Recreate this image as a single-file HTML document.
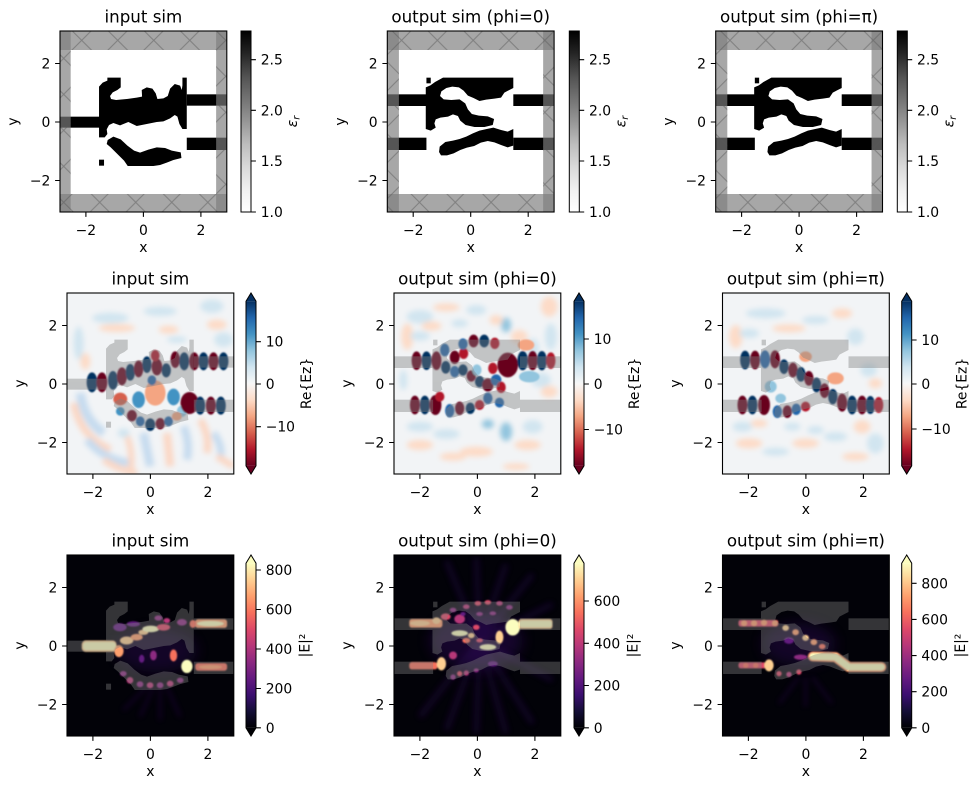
<!DOCTYPE html>
<html><head><meta charset="utf-8"><style>
body{margin:0;background:#fff}
svg text{font-family:"DejaVu Sans","Liberation Sans",sans-serif;fill:#000}
.t{font-size:13.9px}
.ti{font-size:16.7px}
.dr{fill:#67001f;stroke:#67001f}.r{fill:#b2182b;stroke:#b2182b}.r2{fill:#d6604d;stroke:#d6604d}.lr{fill:#f4a582;stroke:#f4a582}.vr{fill:#fddbc7}
.db{fill:#053061;stroke:#053061}.b{fill:#2166ac;stroke:#2166ac}.b2{fill:#4393c3;stroke:#4393c3}.lb{fill:#92c5de;stroke:#92c5de}.vb{fill:#d1e5f0}
.S ellipse{stroke-width:6}
.m1{fill:#140e36}.m2{fill:#3b0f70}.m3{fill:#641a80}.m4{fill:#8c2981}.m5{fill:#b73779}.m6{fill:#de4968}.m7{fill:#f7705c}.m8{fill:#fe9f6d}.m9{fill:#fecf92}.m10{fill:#fcfdbf}
.tk{stroke:#000;stroke-width:1.1;fill:none}
.fr{stroke:#000;stroke-width:1.1;fill:none}
.pml{fill:#7d7d7d;fill-opacity:.68}
</style></head><body>
<svg width="979" height="789" viewBox="0 0 979 789" xmlns="http://www.w3.org/2000/svg">
<defs>
<linearGradient id="gGrey" x1="0" y1="1" x2="0" y2="0">
<stop offset="0" stop-color="#ffffff"/><stop offset=".125" stop-color="#f0f0f0"/><stop offset=".25" stop-color="#d9d9d9"/><stop offset=".375" stop-color="#bdbdbd"/><stop offset=".5" stop-color="#969696"/><stop offset=".625" stop-color="#737373"/><stop offset=".75" stop-color="#525252"/><stop offset=".875" stop-color="#252525"/><stop offset="1" stop-color="#000000"/>
</linearGradient>
<linearGradient id="gRdBu" x1="0" y1="1" x2="0" y2="0">
<stop offset="0" stop-color="#67001f"/><stop offset=".1" stop-color="#b2182b"/><stop offset=".2" stop-color="#d6604d"/><stop offset=".3" stop-color="#f4a582"/><stop offset=".4" stop-color="#fddbc7"/><stop offset=".5" stop-color="#f7f7f7"/><stop offset=".6" stop-color="#d1e5f0"/><stop offset=".7" stop-color="#92c5de"/><stop offset=".8" stop-color="#4393c3"/><stop offset=".9" stop-color="#2166ac"/><stop offset="1" stop-color="#053061"/>
</linearGradient>
<linearGradient id="gMag" x1="0" y1="1" x2="0" y2="0">
<stop offset="0" stop-color="#000004"/><stop offset=".1" stop-color="#140e36"/><stop offset=".2" stop-color="#3b0f70"/><stop offset=".3" stop-color="#641a80"/><stop offset=".4" stop-color="#8c2981"/><stop offset=".5" stop-color="#b73779"/><stop offset=".6" stop-color="#de4968"/><stop offset=".7" stop-color="#f7705c"/><stop offset=".8" stop-color="#fe9f6d"/><stop offset=".9" stop-color="#fecf92"/><stop offset="1" stop-color="#fcfdbf"/>
</linearGradient>
<pattern id="hx" patternUnits="userSpaceOnUse" x="191" y="67" width="108" height="108">
<path d="M0 0L108 108M108 0L0 108" stroke="#555" stroke-opacity=".5" stroke-width="3"/>
</pattern>
<filter id="bl3" filterUnits="userSpaceOnUse" x="-100" y="-100" width="1100" height="1100"><feGaussianBlur stdDeviation="2.5"/></filter>
<filter id="bl4" filterUnits="userSpaceOnUse" x="-100" y="-100" width="1100" height="1100"><feGaussianBlur stdDeviation="4"/></filter>
<filter id="bl6" filterUnits="userSpaceOnUse" x="-100" y="-100" width="1100" height="1100"><feGaussianBlur stdDeviation="6"/></filter>
<filter id="bl8" filterUnits="userSpaceOnUse" x="-100" y="-100" width="1100" height="1100"><feGaussianBlur stdDeviation="8"/></filter>
<filter id="bl10" filterUnits="userSpaceOnUse" x="-100" y="-100" width="1100" height="1100"><feGaussianBlur stdDeviation="10"/></filter>
<filter id="bl20" filterUnits="userSpaceOnUse" x="-100" y="-100" width="1100" height="1100"><feGaussianBlur stdDeviation="20"/></filter>

<g id="s1">
<rect x="160" y="350" width="140" height="33"/>
<rect x="560" y="283" width="140" height="34"/>
<rect x="560" y="413" width="140" height="37"/>
<path d="M322 233L362 233L362 262L352 270L338 277L330 288L333 297L348 300L380 297L410 293L426 290L425 270L440 262L457 266L467 280L472 297L490 295L503 288L510 266L524 252L540 257L545 270L547 256L547 233L560 233L560 387L547 387L538 372L532 350L524 345L510 355L490 364L470 366L440 372L410 378L385 366L360 376L340 369L327 375L320 388L322 402L314 412L297 412L297 260L308 248L322 242Z"/>
<path d="M323 420L340 410L362 418L382 437L402 452L420 458L445 449L470 442L495 444L515 452L542 457L544 474L520 480L500 488L480 495L460 498L383 498L372 482L352 462L332 442L320 432Z"/>
<rect x="297" y="479" width="15" height="18"/>
</g>
<g id="s2">
<rect x="180" y="283" width="140" height="35"/>
<rect x="180" y="413" width="140" height="37"/>
<rect x="582" y="283" width="140" height="35"/>
<rect x="582" y="413" width="140" height="37"/>
<rect x="320" y="233" width="13" height="17"/>
<path d="M370 233L582 233L582 264L570 270L555 278L545 293L525 296L500 299L480 303L462 294L445 287L432 272L418 262L398 260L380 264L365 274L361 288L372 298L395 300L420 298L437 310L445 328L457 342L478 347L505 349L524 357L520 375L495 381L465 381L438 375L422 362L415 348L400 343L385 350L362 353L348 358L344 370L348 383L333 392L318 387L318 262L332 256L346 246Z"/>
<path d="M358 456L360 440L377 426L400 422L420 417L440 410L460 400L480 392L502 387L522 383L545 390L565 395L582 387L582 437L565 442L545 435L525 427L505 423L484 428L464 438L442 443L422 450L402 460L382 466L364 466Z"/>
</g>
<g id="pml1">
<rect class="pml" x="170" y="80" width="520" height="70"/>
<rect class="pml" x="170" y="582" width="520" height="70"/>
<rect class="pml" x="170" y="80" width="42" height="570"/>
<rect class="pml" x="648" y="80" width="42" height="570"/>
<rect fill="url(#hx)" x="170" y="80" width="520" height="70"/>
<rect fill="url(#hx)" x="170" y="582" width="520" height="70"/>
<rect fill="url(#hx)" x="170" y="150" width="42" height="432"/>
<rect fill="url(#hx)" x="648" y="150" width="42" height="432"/>
</g>
<g id="pml2">
<rect class="pml" x="190" y="80" width="530" height="70"/>
<rect class="pml" x="190" y="582" width="530" height="70"/>
<rect class="pml" x="190" y="80" width="47" height="570"/>
<rect class="pml" x="672" y="80" width="48" height="570"/>
<rect fill="url(#hx)" x="190" y="80" width="530" height="70"/>
<rect fill="url(#hx)" x="190" y="582" width="530" height="70"/>
<rect fill="url(#hx)" x="190" y="150" width="47" height="432"/>
<rect fill="url(#hx)" x="672" y="150" width="48" height="432"/>
</g>
</defs>

<!-- ROW 1 images -->
<svg x="60" y="31" width="166.8" height="181" viewBox="180 93 500 543" preserveAspectRatio="none">
<rect x="160" y="80" width="540" height="570" fill="#fff"/>
<use href="#s1" fill="#000"/>
<use href="#pml1"/>
</svg>
<svg x="387.3" y="31" width="166.8" height="181" viewBox="202 93 503 543" preserveAspectRatio="none">
<rect x="180" y="80" width="540" height="570" fill="#fff"/>
<use href="#s2" fill="#000"/>
<use href="#pml2"/>
</svg>
<svg x="715.7" y="31" width="166.8" height="181" viewBox="202 93 503 543" preserveAspectRatio="none">
<rect x="180" y="80" width="540" height="570" fill="#fff"/>
<use href="#s2" fill="#000"/>
<use href="#pml2"/>
</svg>

<!-- ROW 2 images -->
<svg x="67" y="293" width="166.8" height="181" viewBox="0 0 501 543" preserveAspectRatio="none">
<rect x="-10" y="-10" width="520" height="560" fill="#f2f4f6"/>
<g filter="url(#bl8)">
<ellipse class="vb" cx="130" cy="75" rx="55" ry="16"/><ellipse class="vr" cx="150" cy="105" rx="55" ry="12"/>
<ellipse class="vb" cx="280" cy="55" rx="50" ry="14"/><ellipse class="vr" cx="305" cy="110" rx="30" ry="12"/>
<ellipse class="vb" cx="330" cy="140" rx="30" ry="10"/><ellipse class="vb" cx="435" cy="40" rx="35" ry="20"/>
<ellipse class="vr" cx="450" cy="95" rx="30" ry="15"/><ellipse class="vb" cx="470" cy="140" rx="28" ry="22"/>
<ellipse class="vb" cx="35" cy="150" rx="15" ry="50"/><ellipse class="vr" cx="55" cy="205" rx="15" ry="25"/>
<path d="M40 300Q50 380 110 420" stroke="#c6dbef" stroke-width="28" fill="none"/>
<path d="M20 330Q40 430 130 470" stroke="#fbd7c4" stroke-width="22" fill="none"/>
<path d="M60 440Q110 500 190 510" stroke="#c6dbef" stroke-width="24" fill="none"/>
<path d="M110 500Q150 530 210 540" stroke="#fbd7c4" stroke-width="20" fill="none"/>
<path d="M230 420L250 520" stroke="#c6dbef" stroke-width="26" fill="none"/>
<path d="M300 420L310 520" stroke="#fbd7c4" stroke-width="24" fill="none"/>
<path d="M350 400Q370 450 360 500" stroke="#c6dbef" stroke-width="24" fill="none"/>
<path d="M400 380Q430 430 420 480" stroke="#fbd7c4" stroke-width="22" fill="none"/>
<path d="M440 420Q470 460 460 500" stroke="#c6dbef" stroke-width="22" fill="none"/>
<path d="M450 490L500 520" stroke="#fbd7c4" stroke-width="20" fill="none"/>
<path d="M180 430Q200 480 190 540" stroke="#fbd7c4" stroke-width="18" fill="none"/>
<ellipse class="vb" cx="170" cy="420" rx="18" ry="14"/>
</g>
<g filter="url(#bl3)" class="S">
<ellipse class="lr" cx="265" cy="300" rx="28" ry="35"/>
<ellipse class="r2" cx="160" cy="318" rx="18" ry="16"/>
<ellipse class="b2" cx="215" cy="320" rx="16" ry="22"/>
<ellipse class="b2" cx="320" cy="312" rx="16" ry="22"/>
<ellipse class="lb" cx="345" cy="355" rx="12" ry="14"/>
<ellipse class="db" cx="75" cy="268" rx="13" ry="27"/><ellipse class="dr" cx="105" cy="268" rx="13" ry="27"/>
<ellipse class="db" cx="138" cy="262" rx="12" ry="25"/><ellipse class="dr" cx="165" cy="250" rx="12" ry="24"/>
<ellipse class="db" cx="190" cy="238" rx="11" ry="22"/><ellipse class="dr" cx="215" cy="228" rx="11" ry="22"/>
<ellipse class="db" cx="240" cy="215" rx="11" ry="22"/><ellipse class="dr" cx="270" cy="222" rx="13" ry="22"/>
<ellipse class="db" cx="298" cy="232" rx="11" ry="18"/><ellipse class="b" cx="255" cy="262" rx="10" ry="12"/>
<ellipse class="r" cx="265" cy="188" rx="10" ry="14"/>
<ellipse class="dr" cx="325" cy="200" rx="11" ry="22"/><ellipse class="db" cx="352" cy="205" rx="12" ry="24"/>
<ellipse class="dr" cx="382" cy="205" rx="12" ry="24"/><ellipse class="db" cx="410" cy="205" rx="12" ry="24"/>
<ellipse class="dr" cx="440" cy="205" rx="12" ry="24"/><ellipse class="db" cx="470" cy="205" rx="12" ry="24"/>
<ellipse class="dr" cx="368" cy="330" rx="24" ry="30"/><ellipse class="db" cx="400" cy="338" rx="12" ry="24"/>
<ellipse class="dr" cx="432" cy="338" rx="12" ry="24"/><ellipse class="db" cx="462" cy="338" rx="12" ry="24"/>
<ellipse class="dr" cx="195" cy="368" rx="12" ry="14"/><ellipse class="b" cx="220" cy="385" rx="10" ry="12"/>
<ellipse class="db" cx="250" cy="395" rx="12" ry="16"/><ellipse class="dr" cx="280" cy="392" rx="11" ry="14"/>
<ellipse class="b" cx="305" cy="385" rx="10" ry="12"/><ellipse class="lr" cx="330" cy="370" rx="12" ry="10"/>
<ellipse class="b2" cx="160" cy="355" rx="10" ry="10"/>
</g>
</svg>
<svg x="67" y="293" width="166.8" height="181" viewBox="180 93 500 543" preserveAspectRatio="none">
<use href="#s1" fill="#808080" opacity=".42"/>
</svg>

<svg x="394" y="293" width="166.8" height="181" viewBox="222 69 503 543" preserveAspectRatio="none">
<rect x="210" y="60" width="530" height="560" fill="#f2f4f6"/>
<g filter="url(#bl8)">
<ellipse class="vb" cx="300" cy="140" rx="40" ry="20"/><ellipse class="vr" cx="380" cy="112" rx="40" ry="12"/>
<ellipse class="vb" cx="470" cy="120" rx="30" ry="15"/><ellipse fill="#92c5de" cx="560" cy="165" rx="15" ry="22"/>
<ellipse class="vr" cx="600" cy="200" rx="25" ry="20"/><ellipse class="vb" cx="640" cy="235" rx="20" ry="30"/>
<ellipse class="vr" cx="690" cy="110" rx="25" ry="30"/><ellipse class="vb" cx="695" cy="200" rx="18" ry="40"/>
<ellipse class="vb" cx="665" cy="330" rx="30" ry="22"/><ellipse class="vr" cx="690" cy="365" rx="25" ry="18"/>
<ellipse class="vb" cx="640" cy="470" rx="30" ry="20"/><ellipse class="vr" cx="625" cy="525" rx="40" ry="15"/>
<ellipse fill="#92c5de" cx="560" cy="485" rx="18" ry="28"/><ellipse fill="#92c5de" cx="505" cy="462" rx="18" ry="14"/>
<ellipse class="vr" cx="470" cy="545" rx="50" ry="15"/><ellipse class="vb" cx="380" cy="492" rx="40" ry="15"/>
<ellipse class="vr" cx="300" cy="525" rx="40" ry="15"/><ellipse class="vb" cx="300" cy="470" rx="40" ry="15"/>
<ellipse class="vr" cx="262" cy="200" rx="18" ry="40"/><ellipse class="vb" cx="300" cy="198" rx="30" ry="14"/>
<ellipse class="vr" cx="335" cy="168" rx="30" ry="14"/><ellipse class="vb" cx="250" cy="330" rx="12" ry="30"/>
<ellipse class="vr" cx="590" cy="590" rx="40" ry="10"/><ellipse class="vr" cx="400" cy="560" rx="40" ry="12"/>
<ellipse class="vr" cx="530" cy="150" rx="20" ry="15"/><ellipse class="vb" cx="420" cy="160" rx="25" ry="12"/>
</g>
<g filter="url(#bl3)" class="S">
<ellipse class="dr" cx="290" cy="272" rx="12" ry="25"/><ellipse class="db" cx="320" cy="272" rx="12" ry="25"/>
<ellipse class="dr" cx="350" cy="272" rx="12" ry="25"/>
<ellipse class="b" cx="375" cy="240" rx="11" ry="16"/><ellipse class="db" cx="378" cy="292" rx="11" ry="16"/>
<ellipse class="dr" cx="405" cy="262" rx="12" ry="17"/><ellipse class="b" cx="405" cy="305" rx="11" ry="14"/>
<ellipse class="db" cx="430" cy="300" rx="11" ry="14"/><ellipse class="r" cx="432" cy="250" rx="11" ry="14"/>
<ellipse class="dr" cx="455" cy="318" rx="11" ry="14"/><ellipse class="lb" cx="472" cy="300" rx="11" ry="14"/>
<ellipse class="db" cx="480" cy="335" rx="11" ry="14"/><ellipse class="dr" cx="505" cy="345" rx="14" ry="17"/>
<ellipse class="b" cx="530" cy="330" rx="13" ry="14"/><ellipse class="r" cx="520" cy="295" rx="11" ry="14"/>
<ellipse class="r" cx="545" cy="352" rx="11" ry="14"/><ellipse class="b" cx="505" cy="385" rx="11" ry="14"/>
<ellipse class="b" cx="540" cy="398" rx="11" ry="12"/>
<ellipse class="b" cx="430" cy="222" rx="11" ry="14"/><ellipse class="dr" cx="462" cy="213" rx="12" ry="16"/>
<ellipse class="db" cx="494" cy="213" rx="12" ry="16"/><ellipse class="r" cx="526" cy="220" rx="11" ry="14"/>
<ellipse class="dr" cx="565" cy="285" rx="28" ry="34"/><ellipse class="db" cx="610" cy="272" rx="13" ry="26"/>
<ellipse class="dr" cx="640" cy="272" rx="12" ry="26"/><ellipse class="db" cx="668" cy="272" rx="12" ry="26"/>
<ellipse class="r" cx="695" cy="272" rx="11" ry="22"/>
<ellipse class="dr" cx="285" cy="405" rx="12" ry="25"/><ellipse class="db" cx="315" cy="405" rx="12" ry="25"/>
<ellipse class="dr" cx="347" cy="405" rx="15" ry="27"/><ellipse class="b" cx="390" cy="422" rx="11" ry="17"/>
<ellipse class="dr" cx="420" cy="415" rx="11" ry="17"/><ellipse class="db" cx="452" cy="415" rx="11" ry="14"/>
<ellipse class="r" cx="480" cy="405" rx="11" ry="12"/><ellipse class="r" cx="360" cy="380" rx="11" ry="12"/>
<ellipse class="lb" cx="630" cy="320" rx="28" ry="14"/><ellipse class="lr" cx="620" cy="225" rx="22" ry="14"/>
</g>
</svg>
<svg x="394" y="293" width="166.8" height="181" viewBox="202 93 503 543" preserveAspectRatio="none">
<use href="#s2" fill="#808080" opacity=".42"/>
</svg>

<svg x="722.5" y="293" width="166.8" height="181" viewBox="220 69 502 543" preserveAspectRatio="none">
<rect x="210" y="60" width="530" height="560" fill="#f2f4f6"/>
<g filter="url(#bl8)">
<ellipse class="vb" cx="350" cy="130" rx="60" ry="15"/><ellipse class="vr" cx="420" cy="175" rx="50" ry="12"/>
<ellipse class="vb" cx="500" cy="150" rx="40" ry="12"/><ellipse class="vr" cx="580" cy="130" rx="30" ry="15"/>
<ellipse class="vb" cx="620" cy="200" rx="25" ry="25"/><ellipse class="vr" cx="260" cy="200" rx="20" ry="35"/>
<ellipse class="vb" cx="300" cy="190" rx="30" ry="14"/><ellipse class="vb" cx="280" cy="470" rx="30" ry="15"/>
<ellipse class="vr" cx="300" cy="520" rx="40" ry="15"/><ellipse class="vb" cx="380" cy="545" rx="40" ry="12"/>
<ellipse class="vr" cx="470" cy="520" rx="40" ry="14"/><ellipse class="vb" cx="560" cy="500" rx="35" ry="14"/>
<ellipse class="vr" cx="640" cy="470" rx="25" ry="20"/><ellipse class="vb" cx="680" cy="520" rx="25" ry="30"/>
<ellipse class="vr" cx="620" cy="560" rx="40" ry="12"/><ellipse class="vb" cx="660" cy="300" rx="25" ry="20"/>
<ellipse class="vr" cx="680" cy="340" rx="20" ry="15"/><ellipse class="vb" cx="430" cy="470" rx="25" ry="12"/>
<ellipse class="vr" cx="330" cy="460" rx="25" ry="12"/><ellipse class="vb" cx="500" cy="480" rx="25" ry="12"/>
</g>
<g filter="url(#bl3)" class="S">
<ellipse class="lb" cx="365" cy="350" rx="15" ry="15"/><ellipse class="lb" cx="395" cy="385" rx="13" ry="11"/>
<ellipse class="lr" cx="560" cy="325" rx="22" ry="15"/><ellipse class="lr" cx="470" cy="260" rx="16" ry="13"/>
<ellipse class="db" cx="288" cy="270" rx="12" ry="25"/><ellipse class="dr" cx="318" cy="270" rx="12" ry="25"/>
<ellipse class="b" cx="348" cy="268" rx="12" ry="24"/><ellipse class="dr" cx="378" cy="268" rx="12" ry="24"/>
<ellipse class="db" cx="405" cy="290" rx="11" ry="19"/><ellipse class="dr" cx="432" cy="300" rx="11" ry="19"/>
<ellipse class="db" cx="456" cy="313" rx="11" ry="19"/><ellipse class="dr" cx="480" cy="325" rx="11" ry="19"/>
<ellipse class="db" cx="503" cy="345" rx="11" ry="19"/><ellipse class="dr" cx="527" cy="362" rx="11" ry="19"/>
<ellipse class="db" cx="552" cy="380" rx="11" ry="20"/><ellipse class="dr" cx="580" cy="398" rx="12" ry="24"/>
<ellipse class="db" cx="610" cy="405" rx="12" ry="25"/><ellipse class="dr" cx="640" cy="405" rx="12" ry="25"/>
<ellipse class="db" cx="665" cy="405" rx="11" ry="24"/><ellipse class="r" cx="690" cy="405" rx="11" ry="21"/>
<ellipse class="dr" cx="280" cy="405" rx="12" ry="25"/><ellipse class="db" cx="310" cy="405" rx="12" ry="25"/>
<ellipse class="dr" cx="345" cy="405" rx="15" ry="27"/><ellipse class="b" cx="385" cy="425" rx="11" ry="16"/>
<ellipse class="dr" cx="415" cy="425" rx="11" ry="16"/><ellipse class="b" cx="442" cy="418" rx="11" ry="14"/>
<ellipse class="r" cx="470" cy="410" rx="11" ry="12"/>
</g>
</svg>
<svg x="722.5" y="293" width="166.8" height="181" viewBox="202 93 503 543" preserveAspectRatio="none">
<use href="#s2" fill="#808080" opacity=".42"/>
</svg>

<!-- ROW 3 images -->
<svg x="67" y="555" width="166.8" height="181" viewBox="202 72 498 546" preserveAspectRatio="none">
<rect x="190" y="60" width="520" height="570" fill="#020208"/>
<g filter="url(#bl20)" opacity=".3">
<ellipse class="m2" cx="470" cy="360" rx="120" ry="65"/>
</g>
<g filter="url(#bl8)" opacity=".25" stroke="#3b0f70" stroke-width="10">
<path d="M460 470L420 560M480 470L480 570M500 470L540 560M440 470L370 540"/>
</g>
<g filter="url(#bl3)">
<ellipse class="m3" cx="360" cy="290" rx="20" ry="12"/><ellipse class="m3" cx="400" cy="280" rx="20" ry="8"/>
<rect class="m9" x="246" y="330" width="104" height="34" rx="12"/>
<rect class="m10" x="250" y="335" width="98" height="24" rx="10"/>
<ellipse class="m8" cx="357" cy="362" rx="14" ry="18"/>
<ellipse class="m9" cx="380" cy="330" rx="20" ry="12"/><ellipse class="m8" cx="410" cy="320" rx="18" ry="10"/>
<ellipse class="m9" cx="430" cy="305" rx="15" ry="8"/><ellipse class="m10" cx="452" cy="295" rx="25" ry="10"/>
<ellipse class="m6" cx="490" cy="290" rx="20" ry="10"/><ellipse class="m5" cx="500" cy="270" rx="10" ry="8"/>
<ellipse class="m4" cx="545" cy="275" rx="15" ry="10"/><ellipse class="m4" cx="475" cy="262" rx="12" ry="8"/>
<rect class="m8" x="585" y="266" width="95" height="26" rx="8"/><ellipse class="m10" cx="630" cy="279" rx="40" ry="8"/>
<ellipse class="m7" cx="578" cy="280" rx="10" ry="12"/>
<rect class="m7" x="585" y="398" width="95" height="23" rx="8"/><ellipse class="m8" cx="630" cy="410" rx="35" ry="6"/>
<ellipse class="m10" cx="560" cy="408" rx="17" ry="20"/>
<ellipse class="m7" cx="520" cy="375" rx="11" ry="18"/><ellipse class="m4" cx="460" cy="375" rx="10" ry="15"/>
<ellipse class="m3" cx="425" cy="385" rx="8" ry="12"/>
<ellipse class="m4" cx="370" cy="430" rx="10" ry="8"/><ellipse class="m5" cx="390" cy="450" rx="10" ry="10"/>
<ellipse class="m4" cx="420" cy="462" rx="10" ry="9"/><ellipse class="m5" cx="450" cy="465" rx="10" ry="9"/>
<ellipse class="m4" cx="480" cy="465" rx="10" ry="9"/><ellipse class="m5" cx="510" cy="460" rx="10" ry="9"/>
<ellipse class="m4" cx="540" cy="450" rx="10" ry="8"/>
</g>
</svg>
<svg x="67" y="555" width="166.8" height="181" viewBox="180 93 500 543" preserveAspectRatio="none">
<use href="#s1" fill="#808080" opacity=".4"/>
</svg>

<svg x="394" y="555" width="166.8" height="181" viewBox="222 72 503 546" preserveAspectRatio="none">
<rect x="210" y="60" width="530" height="570" fill="#020208"/>
<g filter="url(#bl20)" opacity=".35">
<ellipse class="m2" cx="470" cy="330" rx="140" ry="85"/>
</g>
<g filter="url(#bl10)" opacity=".3" stroke="#3b0f70" stroke-width="16">
<path d="M480 330L380 90M480 330L470 80M480 330L560 100M480 330L640 130M480 330L700 220M480 330L700 450M480 330L640 580M480 330L560 610M480 330L470 610M480 330L380 600M480 330L300 560"/>
</g>
<g filter="url(#bl3)">
<rect class="m8" x="268" y="265" width="100" height="26" rx="8"/><ellipse class="m9" cx="300" cy="278" rx="30" ry="8"/>
<ellipse class="m9" cx="350" cy="270" rx="12" ry="10"/>
<ellipse class="m6" cx="378" cy="258" rx="15" ry="10"/><ellipse class="m5" cx="420" cy="265" rx="16" ry="14"/>
<ellipse class="m4" cx="400" cy="238" rx="10" ry="7"/><ellipse class="m5" cx="440" cy="228" rx="10" ry="7"/>
<ellipse class="m6" cx="475" cy="218" rx="10" ry="7"/><ellipse class="m6" cx="505" cy="215" rx="10" ry="7"/>
<ellipse class="m5" cx="540" cy="218" rx="10" ry="7"/><ellipse class="m4" cx="570" cy="230" rx="10" ry="7"/>
<ellipse class="m3" cx="430" cy="250" rx="8" ry="6"/><ellipse class="m4" cx="480" cy="250" rx="10" ry="6"/>
<ellipse class="m4" cx="520" cy="248" rx="10" ry="6"/>
<ellipse class="m10" cx="420" cy="308" rx="25" ry="9"/><ellipse class="m9" cx="455" cy="315" rx="10" ry="8"/>
<ellipse class="m7" cx="440" cy="330" rx="12" ry="8"/><ellipse class="m10" cx="505" cy="350" rx="25" ry="9"/>
<ellipse class="m9" cx="540" cy="320" rx="12" ry="20"/><ellipse class="m6" cx="470" cy="290" rx="10" ry="8"/>
<ellipse class="m6" cx="480" cy="330" rx="10" ry="6"/>
<ellipse class="m10" cx="580" cy="290" rx="22" ry="25"/>
<rect class="m9" x="598" y="265" width="102" height="30" rx="8"/>
<rect class="m10" x="600" y="270" width="98" height="20" rx="8"/>
<rect class="m7" x="268" y="395" width="85" height="22" rx="8"/><ellipse class="m9" cx="365" cy="400" rx="14" ry="20"/>
<ellipse class="m5" cx="400" cy="375" rx="12" ry="12"/><ellipse class="m6" cx="420" cy="430" rx="8" ry="8"/>
<ellipse class="m5" cx="440" cy="428" rx="8" ry="8"/><ellipse class="m4" cx="400" cy="440" rx="8" ry="8"/>
<ellipse class="m4" cx="470" cy="420" rx="8" ry="6"/><ellipse class="m3" cx="520" cy="400" rx="15" ry="8"/>
</g>
</svg>
<svg x="394" y="555" width="166.8" height="181" viewBox="202 93 503 543" preserveAspectRatio="none">
<use href="#s2" fill="#808080" opacity=".4"/>
</svg>

<svg x="722.5" y="555" width="166.8" height="181" viewBox="220 72 502 546" preserveAspectRatio="none">
<rect x="210" y="60" width="530" height="570" fill="#020208"/>
<g filter="url(#bl20)" opacity=".3">
<ellipse class="m2" cx="450" cy="340" rx="110" ry="65"/>
</g>
<g filter="url(#bl8)" opacity=".25" stroke="#3b0f70" stroke-width="10">
<path d="M450 440L390 520M470 440L470 530M490 440L550 520"/>
</g>
<g filter="url(#bl3)">
<rect class="m6" x="268" y="268" width="120" height="20" rx="7"/>
<ellipse class="m8" cx="285" cy="278" rx="9" ry="9"/><ellipse class="m8" cx="315" cy="278" rx="9" ry="9"/>
<ellipse class="m8" cx="345" cy="276" rx="9" ry="9"/><ellipse class="m8" cx="378" cy="278" rx="9" ry="9"/>
<ellipse class="m9" cx="410" cy="292" rx="10" ry="9"/><ellipse class="m8" cx="440" cy="305" rx="10" ry="9"/>
<ellipse class="m9" cx="470" cy="322" rx="10" ry="9"/><ellipse class="m8" cx="495" cy="335" rx="10" ry="9"/>
<ellipse class="m7" cx="520" cy="348" rx="10" ry="8"/><ellipse class="m3" cx="420" cy="330" rx="15" ry="10"/>
<path d="M492 378L560 380L600 410L698 410" stroke="#fe9f6d" stroke-width="30" stroke-linecap="round" stroke-linejoin="round" fill="none"/>
<path d="M492 378L560 380L600 410L698 410" stroke="#fcfdbf" stroke-width="20" stroke-linecap="round" stroke-linejoin="round" fill="none"/>
<rect class="m6" x="268" y="396" width="85" height="18" rx="7"/>
<ellipse class="m7" cx="290" cy="405" rx="8" ry="8"/><ellipse class="m7" cx="320" cy="405" rx="8" ry="8"/>
<ellipse class="m9" cx="360" cy="405" rx="14" ry="18"/>
<ellipse class="m6" cx="390" cy="430" rx="8" ry="8"/><ellipse class="m5" cx="420" cy="432" rx="8" ry="8"/>
<ellipse class="m6" cx="450" cy="425" rx="8" ry="8"/><ellipse class="m4" cx="455" cy="380" rx="20" ry="8"/>
</g>
</svg>
<svg x="722.5" y="555" width="166.8" height="181" viewBox="202 93 503 543" preserveAspectRatio="none">
<use href="#s2" fill="#808080" opacity=".4"/>
</svg>

<!-- frames -->
<rect class="fr" x="60" y="31" width="166.8" height="181"/>
<rect class="fr" x="387.3" y="31" width="166.8" height="181"/>
<rect class="fr" x="715.7" y="31" width="166.8" height="181"/>
<rect class="fr" x="67" y="293" width="166.8" height="181"/>
<rect class="fr" x="394" y="293" width="166.8" height="181"/>
<rect class="fr" x="722.5" y="293" width="166.8" height="181"/>
<rect class="fr" x="67" y="555" width="166.8" height="181"/>
<rect class="fr" x="394" y="555" width="166.8" height="181"/>
<rect class="fr" x="722.5" y="555" width="166.8" height="181"/>

<!-- colorbars row 1 -->
<rect x="241" y="31" width="10" height="181" fill="url(#gGrey)" stroke="#000" stroke-width="1"/>
<rect x="569.3" y="31" width="10" height="181" fill="url(#gGrey)" stroke="#000" stroke-width="1"/>
<rect x="897.3" y="31" width="10" height="181" fill="url(#gGrey)" stroke="#000" stroke-width="1"/>
<!-- colorbars row 2 -->
<g>
<rect x="246" y="301.2" width="10" height="164.6" fill="url(#gRdBu)"/>
<polygon points="246,301.2 251,293 256,301.2" fill="#053061"/><polygon points="246,465.8 251,474 256,465.8" fill="#67001f"/>
<polygon points="246,301.2 251,293 256,301.2 256,465.8 251,474 246,465.8" fill="none" stroke="#000" stroke-width="1"/>
<rect x="574" y="301.2" width="10" height="164.6" fill="url(#gRdBu)"/>
<polygon points="574,301.2 579,293 584,301.2" fill="#053061"/><polygon points="574,465.8 579,474 584,465.8" fill="#67001f"/>
<polygon points="574,301.2 579,293 584,301.2 584,465.8 579,474 574,465.8" fill="none" stroke="#000" stroke-width="1"/>
<rect x="901.7" y="301.2" width="10" height="164.6" fill="url(#gRdBu)"/>
<polygon points="901.7,301.2 906.7,293 911.7,301.2" fill="#053061"/><polygon points="901.7,465.8 906.7,474 911.7,465.8" fill="#67001f"/>
<polygon points="901.7,301.2 906.7,293 911.7,301.2 911.7,465.8 906.7,474 901.7,465.8" fill="none" stroke="#000" stroke-width="1"/>
</g>
<!-- colorbars row 3 -->
<g>
<rect x="246" y="563.2" width="10" height="164.6" fill="url(#gMag)"/>
<polygon points="246,563.2 251,555 256,563.2" fill="#fcfdbf"/><polygon points="246,727.8 251,736 256,727.8" fill="#000004"/>
<polygon points="246,563.2 251,555 256,563.2 256,727.8 251,736 246,727.8" fill="none" stroke="#000" stroke-width="1"/>
<rect x="574" y="563.2" width="10" height="164.6" fill="url(#gMag)"/>
<polygon points="574,563.2 579,555 584,563.2" fill="#fcfdbf"/><polygon points="574,727.8 579,736 584,727.8" fill="#000004"/>
<polygon points="574,563.2 579,555 584,563.2 584,727.8 579,736 574,727.8" fill="none" stroke="#000" stroke-width="1"/>
<rect x="901.7" y="563.2" width="10" height="164.6" fill="url(#gMag)"/>
<polygon points="901.7,563.2 906.7,555 911.7,563.2" fill="#fcfdbf"/><polygon points="901.7,727.8 906.7,736 911.7,727.8" fill="#000004"/>
<polygon points="901.7,563.2 906.7,555 911.7,563.2 911.7,727.8 906.7,736 901.7,727.8" fill="none" stroke="#000" stroke-width="1"/>
</g>

<!-- ticks -->
<path class="tk" d="
M85.9 212v4.9M143.4 212v4.9M200.9 212v4.9M60 63.5h-4.9M60 122h-4.9M60 180.5h-4.9
M251 59.7h4.9M251 110.3h4.9M251 161h4.9M251 212h4.9
M413.2 212v4.9M470.7 212v4.9M528.2 212v4.9M387.3 63.5h-4.9M387.3 122h-4.9M387.3 180.5h-4.9
M579.3 59.7h4.9M579.3 110.3h4.9M579.3 161h4.9M579.3 212h4.9
M741.6 212v4.9M799.1 212v4.9M856.6 212v4.9M715.7 63.5h-4.9M715.7 122h-4.9M715.7 180.5h-4.9
M907.3 59.7h4.9M907.3 110.3h4.9M907.3 161h4.9M907.3 212h4.9
M92.9 474v4.9M150.4 474v4.9M207.9 474v4.9M67 325.5h-4.9M67 384h-4.9M67 442.5h-4.9
M256 341.7h4.9M256 384h4.9M256 426.7h4.9
M419.9 474v4.9M477.4 474v4.9M534.9 474v4.9M394 325.5h-4.9M394 384h-4.9M394 442.5h-4.9
M584 339h4.9M584 384h4.9M584 429.5h4.9
M748.4 474v4.9M805.9 474v4.9M863.4 474v4.9M722.5 325.5h-4.9M722.5 384h-4.9M722.5 442.5h-4.9
M911.7 340h4.9M911.7 384h4.9M911.7 429h4.9
M92.9 736v4.9M150.4 736v4.9M207.9 736v4.9M67 587.5h-4.9M67 646h-4.9M67 704.5h-4.9
M256 570h4.9M256 609.5h4.9M256 649h4.9M256 688.5h4.9M256 727.8h4.9
M419.9 736v4.9M477.4 736v4.9M534.9 736v4.9M394 587.5h-4.9M394 646h-4.9M394 704.5h-4.9
M584 601h4.9M584 643.3h4.9M584 685.5h4.9M584 727.8h4.9
M748.4 736v4.9M805.9 736v4.9M863.4 736v4.9M722.5 587.5h-4.9M722.5 646h-4.9M722.5 704.5h-4.9
M911.7 583.3h4.9M911.7 619.4h4.9M911.7 655.6h4.9M911.7 691.7h4.9M911.7 727.8h4.9"/>

<!-- titles -->
<g class="ti" text-anchor="middle">
<text x="143.4" y="22.7">input sim</text>
<text x="470.7" y="22.7">output sim (phi=0)</text>
<text x="799.1" y="22.7">output sim (phi=π)</text>
<text x="150.4" y="284.7">input sim</text>
<text x="477.4" y="284.7">output sim (phi=0)</text>
<text x="805.9" y="284.7">output sim (phi=π)</text>
<text x="150.4" y="546.7">input sim</text>
<text x="477.4" y="546.7">output sim (phi=0)</text>
<text x="805.9" y="546.7">output sim (phi=π)</text>
</g>

<!-- x tick labels & x labels -->
<g class="t" text-anchor="middle">
<text x="85.9" y="235">−2</text><text x="143.4" y="235">0</text><text x="200.9" y="235">2</text><text x="143.4" y="252">x</text>
<text x="413.2" y="235">−2</text><text x="470.7" y="235">0</text><text x="528.2" y="235">2</text><text x="470.7" y="252">x</text>
<text x="741.6" y="235">−2</text><text x="799.1" y="235">0</text><text x="856.6" y="235">2</text><text x="799.1" y="252">x</text>
<text x="92.9" y="497">−2</text><text x="150.4" y="497">0</text><text x="207.9" y="497">2</text><text x="150.4" y="514">x</text>
<text x="419.9" y="497">−2</text><text x="477.4" y="497">0</text><text x="534.9" y="497">2</text><text x="477.4" y="514">x</text>
<text x="748.4" y="497">−2</text><text x="805.9" y="497">0</text><text x="863.4" y="497">2</text><text x="805.9" y="514">x</text>
<text x="92.9" y="759">−2</text><text x="150.4" y="759">0</text><text x="207.9" y="759">2</text><text x="150.4" y="776">x</text>
<text x="419.9" y="759">−2</text><text x="477.4" y="759">0</text><text x="534.9" y="759">2</text><text x="477.4" y="776">x</text>
<text x="748.4" y="759">−2</text><text x="805.9" y="759">0</text><text x="863.4" y="759">2</text><text x="805.9" y="776">x</text>
</g>

<!-- y tick labels -->
<g class="t" text-anchor="end">
<text x="50.3" y="68.5">2</text><text x="50.3" y="127">0</text><text x="50.3" y="185.5">−2</text>
<text x="377.6" y="68.5">2</text><text x="377.6" y="127">0</text><text x="377.6" y="185.5">−2</text>
<text x="706" y="68.5">2</text><text x="706" y="127">0</text><text x="706" y="185.5">−2</text>
<text x="57.3" y="330.5">2</text><text x="57.3" y="389">0</text><text x="57.3" y="447.5">−2</text>
<text x="384.3" y="330.5">2</text><text x="384.3" y="389">0</text><text x="384.3" y="447.5">−2</text>
<text x="712.8" y="330.5">2</text><text x="712.8" y="389">0</text><text x="712.8" y="447.5">−2</text>
<text x="57.3" y="592.5">2</text><text x="57.3" y="651">0</text><text x="57.3" y="709.5">−2</text>
<text x="384.3" y="592.5">2</text><text x="384.3" y="651">0</text><text x="384.3" y="709.5">−2</text>
<text x="712.8" y="592.5">2</text><text x="712.8" y="651">0</text><text x="712.8" y="709.5">−2</text>
</g>

<!-- y labels -->
<g class="t" text-anchor="middle">
<text transform="translate(17.5,121.5) rotate(-90)">y</text>
<text transform="translate(344.8,121.5) rotate(-90)">y</text>
<text transform="translate(673.2,121.5) rotate(-90)">y</text>
<text transform="translate(24.5,383.5) rotate(-90)">y</text>
<text transform="translate(351.5,383.5) rotate(-90)">y</text>
<text transform="translate(680,383.5) rotate(-90)">y</text>
<text transform="translate(24.5,645.5) rotate(-90)">y</text>
<text transform="translate(351.5,645.5) rotate(-90)">y</text>
<text transform="translate(680,645.5) rotate(-90)">y</text>
</g>

<!-- colorbar tick labels -->
<g class="t">
<text x="260.7" y="64.7">2.5</text><text x="260.7" y="115.3">2.0</text><text x="260.7" y="166">1.5</text><text x="260.7" y="217">1.0</text>
<text x="589" y="64.7">2.5</text><text x="589" y="115.3">2.0</text><text x="589" y="166">1.5</text><text x="589" y="217">1.0</text>
<text x="917" y="64.7">2.5</text><text x="917" y="115.3">2.0</text><text x="917" y="166">1.5</text><text x="917" y="217">1.0</text>
<text x="265.7" y="346.7">10</text><text x="265.7" y="389">0</text><text x="265.7" y="431.7">−10</text>
<text x="593.7" y="344">10</text><text x="593.7" y="389">0</text><text x="593.7" y="434.5">−10</text>
<text x="921.4" y="345">10</text><text x="921.4" y="389">0</text><text x="921.4" y="434">−10</text>
<text x="265.7" y="575">800</text><text x="265.7" y="614.5">600</text><text x="265.7" y="654">400</text><text x="265.7" y="693.5">200</text><text x="265.7" y="732.8">0</text>
<text x="593.7" y="606">600</text><text x="593.7" y="648.3">400</text><text x="593.7" y="690.5">200</text><text x="593.7" y="732.8">0</text>
<text x="921.4" y="588.3">800</text><text x="921.4" y="624.4">600</text><text x="921.4" y="660.6">400</text><text x="921.4" y="696.7">200</text><text x="921.4" y="732.8">0</text>
</g>

<!-- colorbar labels -->
<g class="t" text-anchor="middle">
<text transform="translate(297,121.5) rotate(-90)"><tspan font-style="italic">ε</tspan><tspan font-style="italic" font-size="9.7" dy="2.5">r</tspan></text>
<text transform="translate(625.3,121.5) rotate(-90)"><tspan font-style="italic">ε</tspan><tspan font-style="italic" font-size="9.7" dy="2.5">r</tspan></text>
<text transform="translate(953.3,121.5) rotate(-90)"><tspan font-style="italic">ε</tspan><tspan font-style="italic" font-size="9.7" dy="2.5">r</tspan></text>
<text transform="translate(311,383.5) rotate(-90)">Re{Ez}</text>
<text transform="translate(639,383.5) rotate(-90)">Re{Ez}</text>
<text transform="translate(966.7,383.5) rotate(-90)">Re{Ez}</text>
<text transform="translate(309.5,645.5) rotate(-90)">|E|²</text>
<text transform="translate(637.5,645.5) rotate(-90)">|E|²</text>
<text transform="translate(965.2,645.5) rotate(-90)">|E|²</text>
</g>
</svg>
</body></html>
